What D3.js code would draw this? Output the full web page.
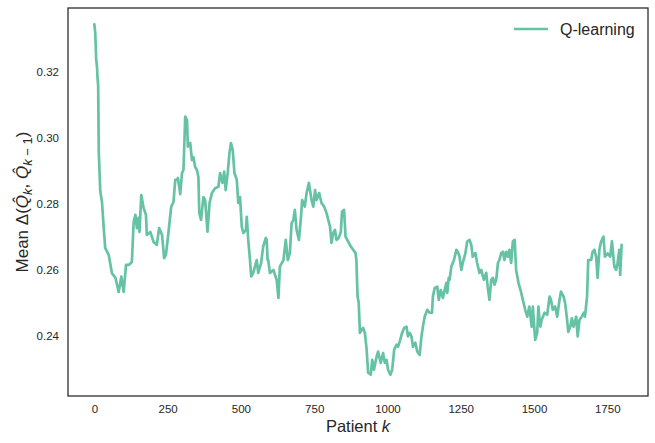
<!DOCTYPE html>
<html><head><meta charset="utf-8">
<script src="https://cdn.jsdelivr.net/npm/d3@7"></script>
<style>body{margin:0;background:#fff;} text{font-family:"Liberation Sans",Arial,sans-serif;}</style>
</head><body><svg id="c" width="655" height="443"></svg>
<script>
const patients = [0,3,6,9,11,13,15,20,26,32,37,49,54,60,72,83,92,100,108,117,128,134,140,145,151,154,160,168,176,179,191,202,213,221,231,238,244,253,262,270,276,282,285,293,299,304,310,316,319,327,333,338,344,350,355,358,364,372,378,386,393,401,412,423,429,437,443,448,455,461,466,472,478,486,491,497,503,508,517,520,525,531,535,542,554,559,569,576,585,588,591,593,599,611,622,628,633,645,653,660,667,673,679,684,690,698,705,709,718,724,732,741,747,753,758,767,775,784,792,804,809,815,821,826,834,841,845,852,857,866,875,883,891,894,898,902,906,912,917,923,929,934,943,948,954,963,968,977,985,991,997,1002,1010,1016,1023,1031,1036,1042,1050,1057,1065,1070,1076,1082,1087,1095,1102,1110,1116,1121,1127,1136,1144,1152,1155,1161,1170,1175,1182,1189,1195,1201,1204,1209,1212,1218,1227,1235,1240,1246,1252,1257,1266,1272,1280,1286,1291,1300,1306,1314,1320,1329,1337,1342,1348,1354,1360,1365,1371,1377,1382,1388,1394,1399,1405,1411,1416,1422,1428,1434,1439,1447,1454,1462,1470,1477,1484,1492,1496,1504,1511,1515,1519,1522,1526,1536,1545,1553,1558,1564,1572,1579,1587,1592,1601,1606,1613,1617,1624,1629,1635,1644,1649,1655,1663,1670,1674,1681,1685,1695,1700,1706,1712,1717,1723,1729,1737,1742,1751,1760,1766,1774,1780,1785,1791,1794,1799];
const qlearning = [0.3345,0.3320,0.3242,0.3215,0.3180,0.3160,0.2960,0.2840,0.2806,0.2727,0.2667,0.2645,0.2620,0.2590,0.2576,0.2533,0.2580,0.2533,0.2615,0.2615,0.2624,0.2745,0.2767,0.2727,0.2758,0.2715,0.2827,0.2788,0.2767,0.2706,0.2715,0.2685,0.2676,0.2727,0.2706,0.2636,0.2645,0.2715,0.2791,0.2806,0.2873,0.2873,0.2879,0.2830,0.2894,0.2903,0.3065,0.3055,0.2974,0.2985,0.2933,0.2942,0.2912,0.2903,0.2882,0.2773,0.2752,0.2821,0.2812,0.2716,0.2803,0.2833,0.2848,0.2852,0.2894,0.2864,0.2898,0.2842,0.2894,0.2955,0.2985,0.2964,0.2894,0.2873,0.2803,0.2821,0.2731,0.2712,0.2721,0.2761,0.2691,0.2630,0.2580,0.2591,0.2630,0.2591,0.2621,0.2671,0.2697,0.2691,0.2630,0.2630,0.2591,0.2600,0.2570,0.2515,0.2610,0.2630,0.2691,0.2630,0.2651,0.2742,0.2752,0.2782,0.2721,0.2691,0.2761,0.2812,0.2792,0.2833,0.2864,0.2812,0.2792,0.2842,0.2812,0.2833,0.2803,0.2792,0.2773,0.2731,0.2682,0.2712,0.2721,0.2691,0.2697,0.2716,0.2777,0.2782,0.2701,0.2686,0.2671,0.2661,0.2651,0.2630,0.2519,0.2500,0.2409,0.2418,0.2424,0.2409,0.2358,0.2288,0.2282,0.2327,0.2297,0.2337,0.2352,0.2318,0.2348,0.2318,0.2327,0.2297,0.2282,0.2297,0.2358,0.2373,0.2367,0.2383,0.2409,0.2424,0.2428,0.2398,0.2409,0.2398,0.2367,0.2379,0.2352,0.2342,0.2398,0.2428,0.2458,0.2479,0.2470,0.2470,0.2519,0.2545,0.2549,0.2509,0.2539,0.2515,0.2539,0.2561,0.2530,0.2576,0.2570,0.2610,0.2630,0.2661,0.2655,0.2640,0.2600,0.2621,0.2651,0.2686,0.2691,0.2676,0.2640,0.2651,0.2621,0.2591,0.2600,0.2570,0.2591,0.2549,0.2509,0.2570,0.2576,0.2555,0.2570,0.2621,0.2630,0.2651,0.2655,0.2630,0.2655,0.2640,0.2661,0.2621,0.2687,0.2691,0.2600,0.2561,0.2539,0.2509,0.2479,0.2458,0.2489,0.2428,0.2489,0.2388,0.2409,0.2489,0.2448,0.2428,0.2448,0.2470,0.2464,0.2519,0.2509,0.2479,0.2489,0.2458,0.2509,0.2534,0.2519,0.2500,0.2448,0.2412,0.2428,0.2453,0.2428,0.2458,0.2398,0.2448,0.2458,0.2470,0.2458,0.2519,0.2630,0.2630,0.2655,0.2661,0.2640,0.2576,0.2661,0.2686,0.2701,0.2640,0.2650,0.2640,0.2687,0.2610,0.2600,0.2620,0.2661,0.2585,0.2676];
const xTicks = [0,250,500,750,1000,1250,1500,1750];
const yTicks = [0.24,0.26,0.28,0.30,0.32];
const seriesName = "Q-learning";

const svg = d3.select("#c");
const L=68,R=648,T=8,B=396;
const x = d3.scaleLinear().domain([-89.95,1888.95]).range([L,R]);
const y = d3.scaleLinear().domain([0.22175,0.33945]).range([B,T]);
const data = patients.map((p,i)=>({p,v:qlearning[i]}));

svg.append("path").datum(data)
  .attr("fill","none").attr("stroke","#66c2a5").attr("stroke-width",2.7)
  .attr("stroke-linejoin","round").attr("stroke-linecap","round")
  .attr("d",d3.line().x(d=>x(d.p)).y(d=>y(d.v)));

const xa = svg.append("g").attr("transform",`translate(0,${B})`)
  .call(d3.axisBottom(x).tickValues(xTicks).tickSize(0).tickPadding(9).tickFormat(d3.format("d")));
const ya = svg.append("g").attr("transform",`translate(${L},0)`)
  .call(d3.axisLeft(y).tickValues(yTicks).tickSize(0).tickPadding(9).tickFormat(d3.format(".2f")));
[xa,ya].forEach(g=>{g.select(".domain").remove();
  g.selectAll("text").attr("font-size",11.5).attr("fill","#262626").attr("font-family","Liberation Sans, Arial, sans-serif");});

svg.append("rect").attr("x",L).attr("y",T).attr("width",R-L).attr("height",B-T)
  .attr("fill","none").attr("stroke","#262626").attr("stroke-width",1.25);

svg.append("text").attr("x",(L+R)/2).attr("y",432).attr("text-anchor","middle")
  .attr("font-size",16.5).attr("fill","#262626")
  .call(t=>{t.append("tspan").text("Patient ");t.append("tspan").attr("font-style","italic").text("k");});

const yl = svg.append("text").attr("transform",`translate(28,${(T+B)/2}) rotate(-90)`)
  .attr("text-anchor","middle").attr("font-size",17).attr("fill","#262626");
yl.append("tspan").text("Mean Δ(");
yl.append("tspan").attr("font-style","italic").text("Q\u0302");
yl.append("tspan").attr("font-style","italic").attr("font-size",13).attr("dy",4).text("k");
yl.append("tspan").attr("dy",-4).text(", ");
yl.append("tspan").attr("font-style","italic").text("Q\u0302");
yl.append("tspan").attr("font-size",13).attr("dy",4).call(t=>{t.append("tspan").attr("font-style","italic").text("k");t.append("tspan").text(" − 1");});
yl.append("tspan").attr("dy",-4).text(")");

const lg = svg.append("g");
lg.append("line").attr("x1",514).attr("x2",548).attr("y1",29).attr("y2",29)
  .attr("stroke","#66c2a5").attr("stroke-width",2.7);
lg.append("text").attr("x",560).attr("y",35).attr("font-size",16).attr("fill","#262626").text(seriesName);
</script></body></html>
